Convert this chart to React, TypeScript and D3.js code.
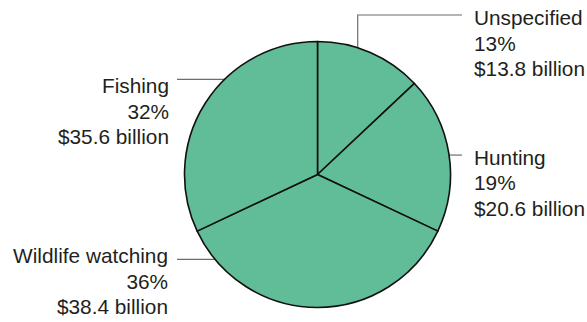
import React from "react";
import * as d3 from "d3";

const categories = ["Unspecified", "Hunting", "Wildlife watching", "Fishing"];
const percents = [13, 19, 36, 32];
const billions = [13.8, 20.6, 38.4, 35.6];

const W = 587;
const H = 322;
const cx = 317.5;
const cy = 174.5;
const R = 133;
const FILL = "#60bd98";

// label layout (angles in degrees, clockwise from top)
const layouts = [
  { angle: 17.6, bend: { y: 15 }, endX: 462, tx: 474, anchor: "start", base: 25 },
  { angle: 81.6, endX: 462, tx: 474, anchor: "start", base: 164.5 },
  { angle: 230.4, endX: 177, tx: 168, anchor: "end", base: 263 },
  { angle: 315.7, endX: 177, tx: 169, anchor: "end", base: 93 },
];

export default function App() {
  const pie = d3.pie<number>().sort(null).value((d) => d);
  const arcs = pie(percents);
  const arc = d3.arc<d3.PieArcDatum<number>>().innerRadius(0).outerRadius(R);
  const lineGap = 25.5;

  return (
    <svg
      width={W}
      height={H}
      style={{ position: "absolute", left: 0, top: 0, background: "#fff" }}
      fontFamily="'Liberation Sans', Arial, Helvetica, sans-serif"
    >
      <g>
        {layouts.map((l, i) => {
          const a = (l.angle * Math.PI) / 180;
          const ex = cx + R * Math.sin(a);
          const ey = cy - R * Math.cos(a);
          const pts: [number, number][] = l.bend
            ? [[ex, ey], [ex, l.bend.y], [l.endX, l.bend.y]]
            : [[ex, ey], [l.endX, ey]];
          return (
            <path
              key={"l" + i}
              d={d3.line()(pts) || ""}
              fill="none"
              stroke="#6d6d6d"
              strokeWidth={1.2}
            />
          );
        })}
      </g>
      <g transform={`translate(${cx},${cy})`}>
        {arcs.map((d, i) => (
          <path
            key={i}
            d={arc(d) || ""}
            fill={FILL}
            stroke="#111"
            strokeWidth={1.6}
            strokeLinejoin="round"
          />
        ))}
      </g>
      <g fill="#231f20" fontSize={20.8}>
        {layouts.map((l, i) => {
          const lines = [categories[i], `${percents[i]}%`, `$${billions[i].toFixed(1)} billion`];
          return (
            <text key={"t" + i} x={l.tx} textAnchor={l.anchor as any}>
              {lines.map((s, j) => (
                <tspan key={j} x={l.tx} y={l.base + j * lineGap}>
                  {s}
                </tspan>
              ))}
            </text>
          );
        })}
      </g>
    </svg>
  );
}
